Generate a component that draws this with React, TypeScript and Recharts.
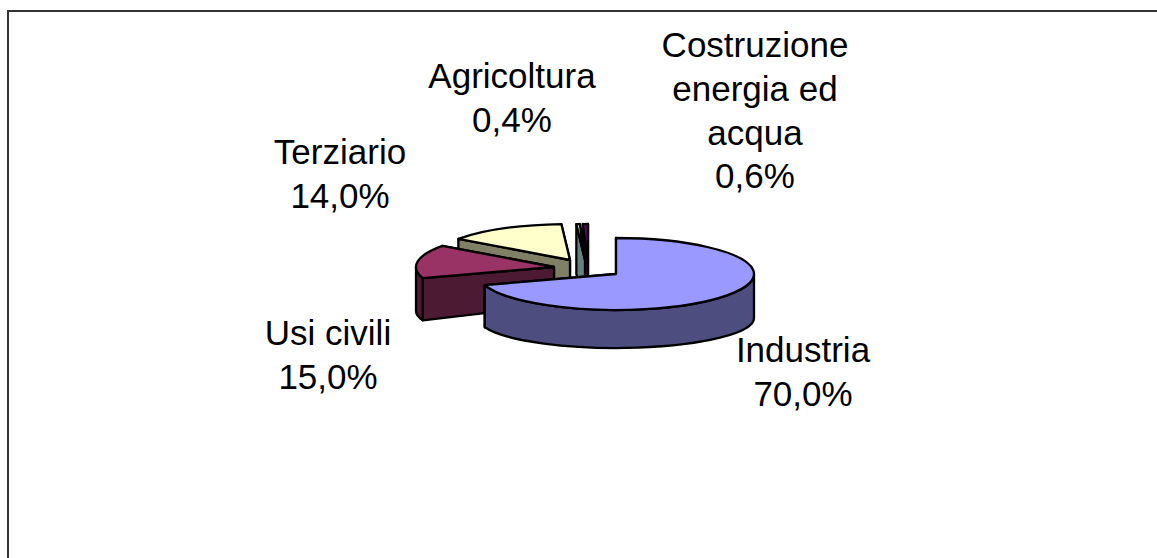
import { Pie, PieChart } from "recharts";

const names = ["Costruzione energia ed acqua", "Agricoltura", "Terziario", "Usi civili", "Industria"];
const shares = [0.6, 0.4, 14.0, 15.0, 70.0];
const topColors = ["#660066", "#CCFFFF", "#FFFFCC", "#993366", "#9999FF"];
const wallColors = ["#330033", "#668080", "#808066", "#4D1A33", "#4D4D80"];

const data = names.map((name, i) => ({ name, value: shares[i], fill: topColors[i] }));

// how far each slice is pulled out of the pie, and where its label goes
const pulled = [[-28, -14], [-31, -14], [-46, -14], [-62, -7], [0, 0]];
const labelLines = [
    ["Costruzione", "energia ed", "acqua"],
    ["Agricoltura"],
    ["Terziario"],
    ["Usi civili"],
    ["Industria"],
];
const labelSpots = [[755, 57], [512, 88], [340, 164], [328, 345], [803, 362]];

const CX = 616;
const CY = 274;
const RX = 138;
const RY = 36;
const DEPTH = 38;
// the lower rim is a flatter ellipse, the old chart had some perspective
const RY_LOW = 30;
const DROP_LOW = 44;
const FONT = "Liberation Sans, Arial, sans-serif";

// recharts angles are counter-clockwise from 3 o'clock, squash them to an ellipse
const pt = (ox: number, oy: number, deg: number) => {
    const a = (deg * Math.PI) / 180;
    return [ox + RX * Math.cos(a), oy - RY * Math.sin(a)];
};
const lowPt = (ox: number, oy: number, deg: number) => {
    const a = (deg * Math.PI) / 180;
    return [ox + RX * Math.cos(a), oy - RY_LOW * Math.sin(a) + DROP_LOW];
};

const Slice3D = (props: any) => {
    const { startAngle, endAngle, index, cx, cy } = props;
    const [dx, dy] = pulled[index];
    const ox = cx + dx;
    const oy = cy + dy;
    const arc = (from: number, to: number) => {
        const [x, y] = pt(ox, oy, to);
        const large = Math.abs(to - from) > 180 ? 1 : 0;
        const sweep = to > from ? 0 : 1;
        return `A ${RX} ${RY} 0 ${large} ${sweep} ${x} ${y}`;
    };
    const [sx, sy] = pt(ox, oy, startAngle);
    const [ex, ey] = pt(ox, oy, endAngle);
    const [slx, sly] = lowPt(ox, oy, startAngle);
    const [elx, ely] = lowPt(ox, oy, endAngle);

    // the part of the rim facing the viewer is 180-360 deg
    const rimFrom = Math.max(startAngle, 180);
    const rimTo = Math.min(endAngle, 360);
    const hasRim = rimTo > rimFrom;
    const [rx0, ry0] = pt(ox, oy, rimFrom);
    const [rx1, ry1] = pt(ox, oy, rimTo);
    const [lx0, ly0] = lowPt(ox, oy, rimFrom);
    const [lx1, ly1] = lowPt(ox, oy, rimTo);

    const common = { stroke: "#000", strokeWidth: 2.3, strokeLinejoin: "round" as const };
    return (
        <g>
            {/* cut faces */}
            <path
                d={`M ${ox} ${oy} L ${sx} ${sy} L ${slx} ${sly} L ${ox} ${oy + DEPTH} Z`}
                fill={wallColors[index]}
                {...common}
            />
            <path
                d={`M ${ox} ${oy} L ${ex} ${ey} L ${elx} ${ely} L ${ox} ${oy + DEPTH} Z`}
                fill={wallColors[index]}
                {...common}
            />
            {hasRim && (
                <path
                    d={`M ${rx0} ${ry0} ${arc(rimFrom, rimTo)} L ${lx1} ${ly1} A ${RX} ${RY_LOW} 0 0 1 ${lx0} ${ly0} Z`}
                    fill={wallColors[index]}
                    {...common}
                />
            )}
            <path d={`M ${ox} ${oy} L ${sx} ${sy} ${arc(startAngle, endAngle)} Z`} fill={topColors[index]} {...common} />
        </g>
    );
};

const SliceLabel = (props: any) => {
    const { index, value } = props;
    const [x, y] = labelSpots[index];
    const lines = [...labelLines[index], `${Number(value).toFixed(1).replace(".", ",")}%`];
    return (
        <text x={x} y={y} textAnchor="middle" fontFamily={FONT} fontSize={35} fill="#000">
            {lines.map((line, i) => (
                <tspan key={line} x={x} dy={i === 0 ? 0 : 43.8}>
                    {line}
                </tspan>
            ))}
        </text>
    );
};

export default function App() {
    return (
        <div style={{ position: "absolute", left: 0, top: 0, width: 1157, height: 558, overflow: "hidden", background: "#fff" }}>
            {/* frame runs off the right and bottom of the picture */}
            <div style={{ position: "absolute", left: 7, top: 10, width: 1300, height: 700, border: "2px solid #333" }} />
            <div style={{ position: "absolute", left: 0, top: 0 }}>
                <PieChart width={1157} height={558} margin={{ top: 0, right: 0, bottom: 0, left: 0 }}>
                    <Pie
                        data={data}
                        dataKey="value"
                        nameKey="name"
                        cx={CX}
                        cy={CY}
                        outerRadius={RX}
                        startAngle={90}
                        endAngle={450}
                        paddingAngle={0}
                        stroke="none"
                        shape={Slice3D}
                        label={SliceLabel}
                        labelLine={false}
                        isAnimationActive={false}
                    />
                </PieChart>
            </div>
        </div>
    );
}
